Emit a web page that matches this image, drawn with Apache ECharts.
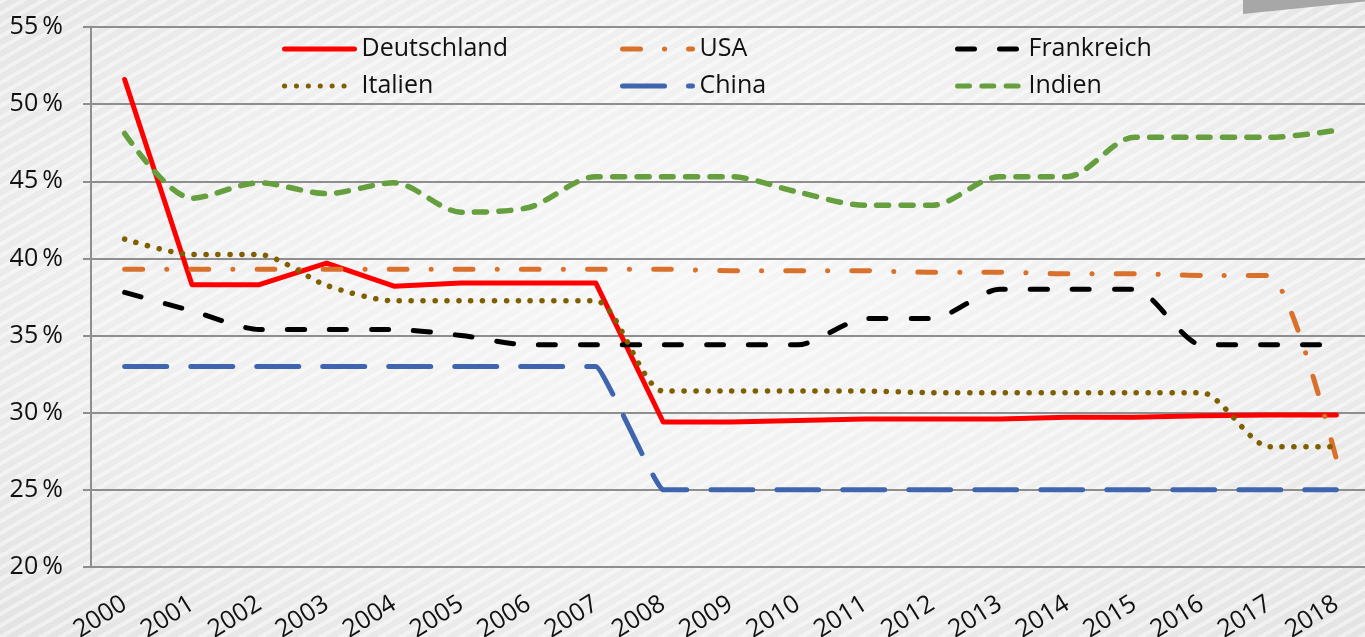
<!DOCTYPE html>
<html>
<head>
<meta charset="utf-8">
<script src="https://cdn.jsdelivr.net/npm/echarts@6/dist/echarts.min.js"></script>
<style>
  html, body { margin: 0; padding: 0; }
  #wrap {
    position: relative;
    width: 1365px;
    height: 637px;
    overflow: hidden;
    background:
      repeating-linear-gradient(150deg, rgba(255,255,255,0.45) 0 4px, rgba(255,255,255,0) 4px 10px),
      radial-gradient(ellipse at 50% 45%, #f6f6f6 0%, #efefef 55%, #e3e3e3 100%);
  }
  #corner {
    position: absolute;
    left: 1243px; top: 0;
    width: 122px; height: 14px;
    background: #a7a7a7;
    clip-path: polygon(0 0, 100% 0, 100% 10%, 0 100%);
  }
  #chart { position: absolute; left: 0; top: 0; width: 1365px; height: 637px; }
</style>
</head>
<body>
<div id="wrap">
  <div id="corner"></div>
  <div id="chart"></div>
</div>
<script>
// Jahre (Kategorien)
const years = ['2000', '2001', '2002', '2003', '2004', '2005', '2006', '2007', '2008', '2009',
  '2010', '2011', '2012', '2013', '2014', '2015', '2016', '2017', '2018']

// Steuersätze in %
const deutschland = [51.6, 38.3, 38.3, 39.7, 38.2, 38.4, 38.4, 38.4, 29.4, 29.4, 29.5, 29.6, 29.6, 29.6, 29.7, 29.7, 29.8, 29.85, 29.85]
const usa = [39.3, 39.3, 39.3, 39.3, 39.3, 39.3, 39.3, 39.3, 39.3, 39.2, 39.2, 39.2, 39.1, 39.1, 39.0, 39.0, 38.9, 38.9, 27.0]
const frankreich = [37.8, 36.6, 35.4, 35.4, 35.4, 35.0, 34.4, 34.4, 34.4, 34.4, 34.4, 36.1, 36.1, 38.0, 38.0, 38.0, 34.4, 34.4, 34.4]
const italien = [41.25, 40.25, 40.25, 38.25, 37.25, 37.25, 37.25, 37.25, 31.4, 31.4, 31.4, 31.4, 31.3, 31.3, 31.3, 31.3, 31.3, 27.8, 27.8]
const china = [33, 33, 33, 33, 33, 33, 33, 33, 25, 25, 25, 25, 25, 25, 25, 25, 25, 25, 25]
const indien = [48.1, 43.9, 44.9, 44.2, 44.9, 43.0, 43.3, 45.3, 45.3, 45.3, 44.3, 43.45, 43.45, 45.3, 45.3, 47.85, 47.85, 47.85, 48.3]

const fontFamily = '"Open Sans", "Noto Sans", sans-serif'
const gridColor = '#8e8e8e'

function lineSeries(name, data, color, width, type, smooth) {
  return {
    name: name,
    type: 'line',
    data: data,
    symbol: 'none',
    smooth: smooth,
    lineStyle: { color: color, width: width, type: type, cap: 'round', join: 'round' },
    itemStyle: { color: color }
  }
}

function legendCol(names, left, itemWidth) {
  return {
    data: names,
    orient: 'vertical',
    left: left,
    top: 36,
    padding: 0,
    itemWidth: itemWidth,
    itemHeight: 14,
    itemGap: 11,
    selectedMode: false,
    lineStyle: { width: 5 },
    itemStyle: { color: 'rgba(0,0,0,0)', borderWidth: 0 },
    textStyle: { fontFamily: fontFamily, fontSize: 25, color: '#111', lineHeight: 26, padding: [0, 0, 0, 2] }
  }
}

const chart = echarts.init(document.getElementById('chart'))
chart.setOption({
  backgroundColor: 'transparent',
  animation: false,
  grid: { left: 91, top: 27, bottom: 70, width: 1279, outerBoundsMode: 'none', containLabel: false },
  legend: [
    legendCol(['Deutschland', 'Italien'], 282, 70),
    legendCol(['USA', 'China'], 620, 70),
    legendCol(['Frankreich', 'Indien'], 955, 64)
  ],
  xAxis: {
    type: 'category',
    data: years,
    boundaryGap: true,
    axisLine: { lineStyle: { color: gridColor, width: 2 } },
    axisTick: { length: 7, lineStyle: { color: gridColor, width: 2 } },
    axisLabel: { rotate: 32, margin: 35, fontFamily: fontFamily, fontSize: 25, color: '#111' }
  },
  yAxis: {
    type: 'value',
    min: 20,
    max: 55,
    interval: 5,
    axisLine: { show: true, lineStyle: { color: gridColor, width: 2 } },
    axisTick: { show: true, length: 8, lineStyle: { color: gridColor, width: 2 } },
    splitLine: { lineStyle: { color: gridColor, width: 2 } },
    axisLabel: {
      margin: 28,
      fontFamily: fontFamily,
      fontSize: 25,
      color: '#111',
      formatter: v => v + '\u2009%'
    }
  },
  series: [
    lineSeries('Deutschland', deutschland, '#ff0000', 5, 'solid', false),
    lineSeries('USA', usa, '#d9702c', 5, [18, 24, 0.1, 24], 0.2),
    lineSeries('Frankreich', frankreich, '#000000', 5, [17, 25], 0.25),
    lineSeries('Italien', italien, '#7f5f00', 5.5, [0.1, 11.8], 0.25),
    lineSeries('China', china, '#3f65ae', 5, [42, 24], 0.08),
    lineSeries('Indien', indien, '#659f3e', 5.5, [12, 12.3], 0.3)
  ]
})
</script>
</body>
</html>
